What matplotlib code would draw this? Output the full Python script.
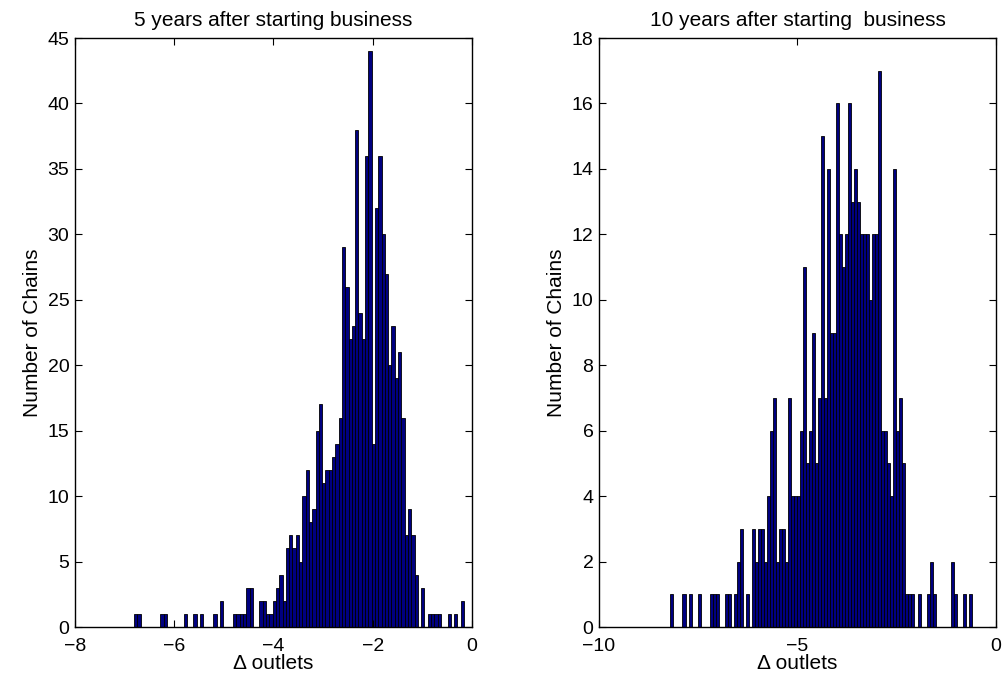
import numpy as np
import matplotlib
matplotlib.use("Agg")
import matplotlib.pyplot as plt

plt.rcParams['font.family'] = ['Liberation Sans', 'DejaVu Sans']

# 5 years: 100 bins between the smallest and largest value
left_range = [-6.81, -0.16]
left_counts = [
    1, 1, 0, 0, 0, 0, 0, 0, 1, 1,
    0, 0, 0, 0, 0, 1, 0, 0, 1, 0,
    1, 0, 0, 0, 1, 0, 2, 0, 0, 0,
    1, 1, 1, 1, 3, 3, 0, 0, 2, 2,
    1, 1, 2, 3, 4, 2, 6, 7, 6, 7,
    5, 10, 12, 8, 9, 15, 17, 11, 12, 12,
    13, 14, 16, 29, 26, 22, 23, 38, 24, 22,
    36, 44, 14, 32, 36, 30, 27, 20, 23, 19,
    21, 16, 7, 9, 7, 4, 0, 3, 0, 1,
    1, 1, 1, 0, 0, 1, 0, 1, 0, 2,
]

# 10 years
right_range = [-8.20, -0.61]
right_counts = [
    1, 0, 0, 0, 1, 0, 1, 0, 0, 1,
    0, 0, 0, 1, 1, 1, 0, 0, 1, 1,
    0, 1, 2, 3, 0, 1, 0, 3, 2, 3,
    3, 2, 4, 6, 7, 2, 3, 3, 2, 7,
    4, 4, 4, 6, 11, 5, 6, 9, 5, 7,
    15, 7, 14, 9, 9, 16, 12, 11, 12, 16,
    13, 14, 13, 12, 12, 12, 10, 12, 12, 17,
    6, 6, 5, 4, 14, 6, 7, 5, 1, 1,
    1, 0, 1, 0, 0, 1, 2, 1, 0, 0,
    0, 0, 0, 2, 1, 0, 0, 1, 0, 1,
]

panels = [
    ("5 years after starting business", left_range, left_counts,
     (-8, 0), [-8, -6, -4, -2, 0], (0, 45), np.arange(0, 46, 5)),
    ("10 years after starting  business", right_range, right_counts,
     (-10, 0), [-10, -5, 0], (0, 18), np.arange(0, 19, 2)),
]

fig = plt.figure(figsize=(10.05, 6.75), dpi=100)
lefts = [0.0746, 0.596]

for left, (title, rng, counts, xlim, xticks, ylim, yticks) in zip(lefts, panels):
    ax = fig.add_axes([left, 0.0711, 0.395, 0.8726])
    edges = np.linspace(rng[0], rng[1], len(counts) + 1)
    ax.bar(edges[:-1], counts, width=np.diff(edges), align="edge",
           color="#000080", edgecolor="black", linewidth=0.6)
    ax.set_xlim(*xlim)
    ax.set_ylim(*ylim)
    ax.set_xticks(xticks)
    ax.set_yticks(yticks)
    ax.set_xticklabels([str(t).replace("-", "\u2212") for t in xticks])
    ax.tick_params(direction="in", top=True, right=True, length=5,
                   width=0.8, labelsize=14)
    ax.tick_params(axis="x", pad=8)
    ax.tick_params(axis="y", pad=4)
    for s in ax.spines.values():
        s.set_linewidth(1.0)
    ax.set_title(title, fontsize=15, pad=9)
    ax.set_xlabel("\u0394 outlets", fontsize=15, labelpad=-1)
    ax.set_ylabel("Number of Chains", fontsize=15, labelpad=4)

fig.savefig("out.png", dpi=100)
